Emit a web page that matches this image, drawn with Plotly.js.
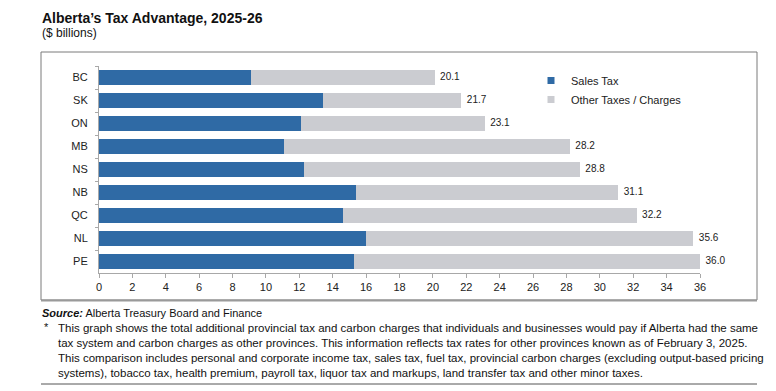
<!DOCTYPE html>
<html>
<head>
<meta charset="utf-8">
<script src="https://cdn.plot.ly/plotly-3.0.1.min.js"></script>
<style>html,body{margin:0;padding:0;background:#fff;}#chart{width:776px;height:391px;}</style>
</head>
<body>
<div id="chart"></div>
<script>
const provinces = ["BC", "SK", "ON", "MB", "NS", "NB", "QC", "NL", "PE"];
const salesTax = [9.1, 13.4, 12.1, 11.1, 12.3, 15.4, 14.6, 16.0, 15.3];
const totals = [20.1, 21.7, 23.1, 28.2, 28.8, 31.1, 32.2, 35.6, 36.0];
const otherTaxes = totals.map((t, i) => +(t - salesTax[i]).toFixed(1));
const xTicks = [0,2,4,6,8,10,12,14,16,18,20,22,24,26,28,30,32,34,36];
const seriesNames = ["Sales Tax", "Other Taxes / Charges"];
const seriesColors = ["#2f6aa5", "#cbccd1"];

const FONT = "Liberation Sans, Arial, sans-serif";

const traces = [
  {type: "bar", orientation: "h", name: seriesNames[0], legendgroup: "s", showlegend: false,
   y: provinces, x: salesTax, marker: {color: seriesColors[0]}, hoverinfo: "skip"},
  {type: "bar", orientation: "h", name: seriesNames[1], legendgroup: "o", showlegend: false,
   y: provinces, x: otherTaxes, marker: {color: seriesColors[1]}, hoverinfo: "skip"},
  {type: "scatter", mode: "text", y: provinces, x: totals, text: totals.map(v => "\u00a0\u00a0" + v.toFixed(1)),
   textposition: "middle right", textfont: {family: FONT, size: 10, color: "#222"},
   showlegend: false, hoverinfo: "skip", cliponaxis: false},
  // legend entries (small square swatches, as in the reference)
  {type: "scatter", mode: "markers", name: seriesNames[0], legendgroup: "s", x: [null], y: [null],
   marker: {symbol: "square", size: 7, color: seriesColors[0]}, hoverinfo: "skip"},
  {type: "scatter", mode: "markers", name: seriesNames[1], legendgroup: "o", x: [null], y: [null],
   marker: {symbol: "square", size: 7, color: seriesColors[1]}, hoverinfo: "skip"}
];

const footLines = [
  "This graph shows the total additional provincial tax and carbon charges that individuals and businesses would pay if Alberta had the same",
  "tax system and carbon charges as other provinces. This information reflects tax rates for other provinces known as of February 3, 2025.",
  "This comparison includes personal and corporate income tax, sales tax, fuel tax, provincial carbon charges (excluding output-based pricing",
  "systems), tobacco tax, health premium, payroll tax, liquor tax and markups, land transfer tax and other minor taxes."
];

// pixel helpers for paper coordinates (plot area: x 99..700, y 66..273)
const px = x => (x - 99) / 601;
const py = y => (273 - y) / 207;

const annotations = [
  {xref: "paper", yref: "paper", x: px(40), y: py(18), xanchor: "left", yanchor: "middle", showarrow: false,
   text: "<b>Alberta’s Tax Advantage, 2025-26</b>", font: {family: FONT, size: 14, color: "#111"}},
  {xref: "paper", yref: "paper", x: px(40), y: py(33), xanchor: "left", yanchor: "middle", showarrow: false,
   text: "($ billions)", font: {family: FONT, size: 12, color: "#111"}},
  {xref: "paper", yref: "paper", x: px(40), y: py(313), xanchor: "left", yanchor: "middle", showarrow: false,
   text: "<b><i>Source:</i></b> Alberta Treasury Board and Finance", font: {family: FONT, size: 11, color: "#111"}},
  {xref: "paper", yref: "paper", x: px(42), y: py(327), xanchor: "left", yanchor: "middle", showarrow: false,
   text: "*", font: {family: FONT, size: 11, color: "#111"}}
];
const footY = [328, 343, 358, 373];
footLines.forEach((line, i) => annotations.push({
  xref: "paper", yref: "paper", x: px(56), y: py(footY[i]), xanchor: "left", yanchor: "middle", showarrow: false,
  text: line, font: {family: FONT, size: 11.5, color: "#111"}
}));

const layout = {
  width: 776, height: 391,
  margin: {l: 99, r: 76, t: 66, b: 118},
  paper_bgcolor: "#fff", plot_bgcolor: "#fff",
  barmode: "stack", bargap: 0.335,
  showlegend: true,
  legend: {x: px(531), y: py(66), xanchor: "left", yanchor: "top", traceorder: "normal",
           font: {family: FONT, size: 11, color: "#222"},
           itemwidth: 30, tracegroupgap: 0, bgcolor: "rgba(0,0,0,0)"},
  xaxis: {range: [0, 36], tickvals: xTicks, ticktext: xTicks.map(String), showgrid: false, zeroline: false,
          showline: true, linecolor: "#a8a8a8", linewidth: 1, ticks: "outside", ticklen: 4, tickcolor: "#a8a8a8",
          tickfont: {family: FONT, size: 11, color: "#222"}, fixedrange: true},
  yaxis: {autorange: "reversed", showgrid: false, zeroline: false, showline: true, linecolor: "#a8a8a8",
          ticks: "outside", ticklen: 3, tickcolor: "#a8a8a8", tickson: "boundaries", ticklabelstandoff: 8,
          tickfont: {family: FONT, size: 11, color: "#222"}, fixedrange: true},
  shapes: [
    {type: "rect", xref: "paper", yref: "paper", x0: px(41), x1: px(757), y0: py(300), y1: py(52),
     line: {color: "#7a7a7a", width: 1}, layer: "below"},
    {type: "line", xref: "paper", yref: "paper", x0: px(41), x1: px(757), y0: py(300.5), y1: py(300.5),
     line: {color: "#9a9a9a", width: 2}},
    {type: "line", xref: "paper", yref: "paper", x0: px(41), x1: px(757), y0: py(384), y1: py(384),
     line: {color: "#555", width: 1}}
  ],
  annotations: annotations
};

Plotly.newPlot("chart", traces, layout, {displayModeBar: false, staticPlot: true});
</script>
</body>
</html>
